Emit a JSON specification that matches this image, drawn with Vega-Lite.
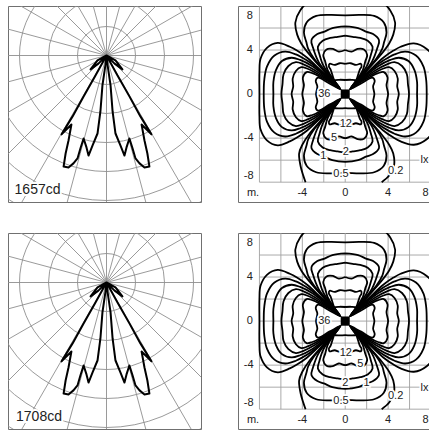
{
"$schema":"https://vega.github.io/schema/vega-lite/v6.json",
"background":"white",
"padding":{"left":7,"top":5,"right":0,"bottom":4},
"config":{"view":{"stroke":"#707070","strokeWidth":1},"text":{"font":"Liberation Sans"}},
"datasets":{
"rings":[{"r":1},{"r":2},{"r":3},{"r":4},{"r":5},{"r":6},{"r":7}],
"spokes":[{"x":-8,"y":0,"x2":8,"y2":0},{"x":-7.727,"y":-2.071,"x2":7.727,"y2":2.071},{"x":-6.928,"y":-4,"x2":6.928,"y2":4},{"x":-5.657,"y":-5.657,"x2":5.657,"y2":5.657},{"x":-4,"y":-6.928,"x2":4,"y2":6.928},{"x":-2.071,"y":-7.727,"x2":2.071,"y2":7.727},{"x":0,"y":-8,"x2":0,"y2":8},{"x":2.071,"y":-7.727,"x2":-2.071,"y2":7.727},{"x":4,"y":-6.928,"x2":-4,"y2":6.928},{"x":5.657,"y":-5.657,"x2":-5.657,"y2":5.657},{"x":6.928,"y":-4,"x2":-6.928,"y2":4},{"x":7.727,"y":-2.071,"x2":-7.727,"y2":2.071}],
"curve":[{"i":1,"x":0,"y":0},{"i":2,"x":-0.31,"y":-0.17},{"i":3,"x":-0.55,"y":-0.48},{"i":4,"x":-0.28,"y":-0.28},{"i":5,"x":0,"y":0},{"i":6,"x":-0.38,"y":-0.69},{"i":7,"x":-0.79,"y":-1.41},{"i":8,"x":-1.17,"y":-2.1},{"i":9,"x":-1.55,"y":-2.72},{"i":10,"x":-1.21,"y":-2.38},{"i":11,"x":-1.31,"y":-2.93},{"i":12,"x":-1.41,"y":-3.38},{"i":13,"x":-1.48,"y":-3.83},{"i":14,"x":-1.31,"y":-3.86},{"i":15,"x":-1.14,"y":-3.72},{"i":16,"x":-1.0,"y":-3.55},{"i":17,"x":-0.9,"y":-3.21},{"i":18,"x":-0.79,"y":-2.86},{"i":19,"x":-0.69,"y":-3.17},{"i":20,"x":-0.62,"y":-3.45},{"i":21,"x":-0.48,"y":-3.1},{"i":22,"x":-0.31,"y":-2.69},{"i":23,"x":-0.21,"y":-1.93},{"i":24,"x":-0.14,"y":-1.03},{"i":25,"x":-0.03,"y":-0.28},{"i":26,"x":0,"y":0},{"i":27,"x":0.03,"y":-0.28},{"i":28,"x":0.14,"y":-1.03},{"i":29,"x":0.21,"y":-1.93},{"i":30,"x":0.31,"y":-2.69},{"i":31,"x":0.48,"y":-3.1},{"i":32,"x":0.62,"y":-3.45},{"i":33,"x":0.69,"y":-3.17},{"i":34,"x":0.79,"y":-2.86},{"i":35,"x":0.9,"y":-3.21},{"i":36,"x":1.0,"y":-3.55},{"i":37,"x":1.14,"y":-3.72},{"i":38,"x":1.31,"y":-3.86},{"i":39,"x":1.48,"y":-3.83},{"i":40,"x":1.41,"y":-3.38},{"i":41,"x":1.31,"y":-2.93},{"i":42,"x":1.21,"y":-2.38},{"i":43,"x":1.55,"y":-2.72},{"i":44,"x":1.17,"y":-2.1},{"i":45,"x":0.79,"y":-1.41},{"i":46,"x":0.38,"y":-0.69},{"i":47,"x":0,"y":0},{"i":48,"x":0.28,"y":-0.28},{"i":49,"x":0.55,"y":-0.48},{"i":50,"x":0.31,"y":-0.17},{"i":51,"x":0,"y":0}],
"grid":[{"x":-8,"y":-8,"x2":-8,"y2":8},{"x":-6,"y":-8,"x2":-6,"y2":8},{"x":-4,"y":-8,"x2":-4,"y2":8},{"x":-2,"y":-8,"x2":-2,"y2":8},{"x":0,"y":-8,"x2":0,"y2":8},{"x":2,"y":-8,"x2":2,"y2":8},{"x":4,"y":-8,"x2":4,"y2":8},{"x":6,"y":-8,"x2":6,"y2":8},{"x":-8,"y":-8,"x2":8,"y2":-8},{"x":-8,"y":-6,"x2":8,"y2":-6},{"x":-8,"y":-4,"x2":8,"y2":-4},{"x":-8,"y":-2,"x2":8,"y2":-2},{"x":-8,"y":0,"x2":8,"y2":0},{"x":-8,"y":2,"x2":8,"y2":2},{"x":-8,"y":4,"x2":8,"y2":4},{"x":-8,"y":6,"x2":8,"y2":6}],
"axl":[{"t":"8","x":-8.9,"y":7.1},{"t":"4","x":-8.9,"y":4},{"t":"0","x":-8.9,"y":0},{"t":"-4","x":-9.0,"y":-4},{"t":"-8","x":-9.0,"y":-7.45},{"t":"m.","x":-8.6,"y":-8.95},{"t":"-4","x":-4,"y":-8.95},{"t":"0","x":0,"y":-8.95},{"t":"4","x":4,"y":-8.95},{"t":"8","x":7.5,"y":-8.95}],
"lab1":[{"t":"36","x":-1.95,"y":0},{"t":"12","x":0.05,"y":-2.72},{"t":"5","x":-1.05,"y":-4.0},{"t":"2","x":0.05,"y":-5.3},{"t":"1","x":-2.05,"y":-5.65},{"t":"0.5","x":-0.4,"y":-7.3},{"t":"0.2","x":4.7,"y":-7.0},{"t":"lx","x":7.4,"y":-6.0}],
"lab2":[{"t":"36","x":-1.95,"y":0},{"t":"12","x":0.05,"y":-2.9},{"t":"5","x":1.4,"y":-3.9},{"t":"2","x":0.0,"y":-5.6},{"t":"1","x":2.0,"y":-5.6},{"t":"0.5","x":-0.4,"y":-7.3},{"t":"0.2","x":4.7,"y":-6.8},{"t":"lx","x":7.4,"y":-6.1}],
"iso":[
{"l":"a","i":1,"x":3.4,"y":-8},{"l":"a","i":2,"x":4.1,"y":-7.4},{"l":"a","i":3,"x":4.55,"y":-6.5},{"l":"a","i":4,"x":4.48,"y":-5.4},{"l":"a","i":5,"x":4.1,"y":-4.6},{"l":"a","i":6,"x":3.3,"y":-3.55},{"l":"a","i":7,"x":2.0,"y":-2.12},{"l":"a","i":8,"x":0.58,"y":-0.58},{"l":"a","i":9,"x":2.12,"y":-2.0},{"l":"a","i":10,"x":3.55,"y":-3.3},{"l":"a","i":11,"x":4.5,"y":-3.95},{"l":"a","i":12,"x":5.17,"y":-4.3},{"l":"a","i":13,"x":6.4,"y":-4.6},{"l":"a","i":14,"x":7.6,"y":-4.1},{"l":"a","i":15,"x":8.5,"y":-2.9},{"l":"a","i":16,"x":8.85,"y":-1.4},{"l":"a","i":17,"x":8.8,"y":0},{"l":"a","i":18,"x":8.85,"y":1.4},{"l":"a","i":19,"x":8.5,"y":2.9},{"l":"a","i":20,"x":7.6,"y":4.1},{"l":"a","i":21,"x":6.4,"y":4.6},{"l":"a","i":22,"x":5.17,"y":4.3},{"l":"a","i":23,"x":4.5,"y":3.95},{"l":"a","i":24,"x":3.55,"y":3.3},{"l":"a","i":25,"x":2.12,"y":2.0},{"l":"a","i":26,"x":0.58,"y":0.58},{"l":"a","i":27,"x":2.0,"y":2.12},{"l":"a","i":28,"x":3.3,"y":3.55},{"l":"a","i":29,"x":4.1,"y":4.6},{"l":"a","i":30,"x":4.48,"y":5.4},{"l":"a","i":31,"x":4.65,"y":6.5},{"l":"a","i":32,"x":4.2,"y":7.6},{"l":"a","i":33,"x":3.1,"y":8.6},{"l":"a","i":34,"x":1.6,"y":8.95},{"l":"a","i":35,"x":0,"y":8.9},{"l":"a","i":36,"x":-1.6,"y":8.95},{"l":"a","i":37,"x":-3.1,"y":8.6},{"l":"a","i":38,"x":-4.2,"y":7.6},{"l":"a","i":39,"x":-4.65,"y":6.5},{"l":"a","i":40,"x":-4.48,"y":5.4},{"l":"a","i":41,"x":-4.1,"y":4.6},{"l":"a","i":42,"x":-3.3,"y":3.55},{"l":"a","i":43,"x":-2.0,"y":2.12},{"l":"a","i":44,"x":-0.58,"y":0.58},{"l":"a","i":45,"x":-2.12,"y":2.0},{"l":"a","i":46,"x":-3.55,"y":3.3},{"l":"a","i":47,"x":-4.5,"y":3.95},{"l":"a","i":48,"x":-5.17,"y":4.3},{"l":"a","i":49,"x":-6.3,"y":4.65},{"l":"a","i":50,"x":-7.3,"y":4.2},{"l":"a","i":51,"x":-7.9,"y":3.2},{"l":"a","i":52,"x":-8.0,"y":2.0},{"l":"a","i":53,"x":-8.0,"y":0},{"l":"a","i":54,"x":-8.0,"y":-2.0},{"l":"a","i":55,"x":-7.9,"y":-3.2},{"l":"a","i":56,"x":-7.3,"y":-4.2},{"l":"a","i":57,"x":-6.3,"y":-4.65},{"l":"a","i":58,"x":-5.17,"y":-4.3},{"l":"a","i":59,"x":-4.5,"y":-3.95},{"l":"a","i":60,"x":-3.55,"y":-3.3},{"l":"a","i":61,"x":-2.12,"y":-2.0},{"l":"a","i":62,"x":-0.58,"y":-0.58},{"l":"a","i":63,"x":-2.0,"y":-2.12},{"l":"a","i":64,"x":-3.3,"y":-3.55},{"l":"a","i":65,"x":-4.0,"y":-4.6},{"l":"a","i":66,"x":-4.3,"y":-5.4},{"l":"a","i":67,"x":-4.15,"y":-6.6},{"l":"a","i":68,"x":-3.7,"y":-8},
{"l":"b","i":1,"x":0,"y":7.15},{"l":"b","i":2,"x":1.4,"y":7.2},{"l":"b","i":3,"x":2.7,"y":7.1},{"l":"b","i":4,"x":3.6,"y":6.5},{"l":"b","i":5,"x":3.85,"y":5.6},{"l":"b","i":6,"x":3.62,"y":4.7},{"l":"b","i":7,"x":3.45,"y":4.1},{"l":"b","i":8,"x":2.9,"y":3.2},{"l":"b","i":9,"x":1.9,"y":2.05},{"l":"b","i":10,"x":0.55,"y":0.55},{"l":"b","i":11,"x":2.05,"y":1.9},{"l":"b","i":12,"x":3.25,"y":2.85},{"l":"b","i":13,"x":4.0,"y":3.3},{"l":"b","i":14,"x":4.6,"y":3.6},{"l":"b","i":15,"x":5.6,"y":3.85},{"l":"b","i":16,"x":6.6,"y":3.5},{"l":"b","i":17,"x":7.3,"y":2.5},{"l":"b","i":18,"x":7.55,"y":1.3},{"l":"b","i":19,"x":7.6,"y":0},
{"l":"b","i":20,"x":7.55,"y":-1.3},{"l":"b","i":21,"x":7.3,"y":-2.5},{"l":"b","i":22,"x":6.6,"y":-3.5},{"l":"b","i":23,"x":5.6,"y":-3.85},{"l":"b","i":24,"x":4.6,"y":-3.6},{"l":"b","i":25,"x":4.0,"y":-3.3},{"l":"b","i":26,"x":3.25,"y":-2.85},{"l":"b","i":27,"x":2.05,"y":-1.9},{"l":"b","i":28,"x":0.55,"y":-0.55},{"l":"b","i":29,"x":1.9,"y":-2.05},{"l":"b","i":30,"x":2.9,"y":-3.2},{"l":"b","i":31,"x":3.45,"y":-4.1},{"l":"b","i":32,"x":3.62,"y":-4.7},{"l":"b","i":33,"x":3.85,"y":-5.6},{"l":"b","i":34,"x":3.6,"y":-6.5},{"l":"b","i":35,"x":2.7,"y":-7.1},{"l":"b","i":36,"x":1.4,"y":-7.2},{"l":"b","i":37,"x":0,"y":-7.15},
{"l":"b","i":38,"x":-1.4,"y":-7.2},{"l":"b","i":39,"x":-2.7,"y":-7.1},{"l":"b","i":40,"x":-3.6,"y":-6.5},{"l":"b","i":41,"x":-3.85,"y":-5.6},{"l":"b","i":42,"x":-3.62,"y":-4.7},{"l":"b","i":43,"x":-3.45,"y":-4.1},{"l":"b","i":44,"x":-2.9,"y":-3.2},{"l":"b","i":45,"x":-1.9,"y":-2.05},{"l":"b","i":46,"x":-0.55,"y":-0.55},{"l":"b","i":47,"x":-2.05,"y":-1.9},{"l":"b","i":48,"x":-3.25,"y":-2.85},{"l":"b","i":49,"x":-4.0,"y":-3.3},{"l":"b","i":50,"x":-4.6,"y":-3.6},{"l":"b","i":51,"x":-5.6,"y":-3.85},{"l":"b","i":52,"x":-6.6,"y":-3.5},{"l":"b","i":53,"x":-7.3,"y":-2.5},{"l":"b","i":54,"x":-7.55,"y":-1.3},{"l":"b","i":55,"x":-7.6,"y":0},
{"l":"b","i":56,"x":-7.55,"y":1.3},{"l":"b","i":57,"x":-7.3,"y":2.5},{"l":"b","i":58,"x":-6.6,"y":3.5},{"l":"b","i":59,"x":-5.6,"y":3.85},{"l":"b","i":60,"x":-4.6,"y":3.6},{"l":"b","i":61,"x":-4.0,"y":3.3},{"l":"b","i":62,"x":-3.25,"y":2.85},{"l":"b","i":63,"x":-2.05,"y":1.9},{"l":"b","i":64,"x":-0.55,"y":0.55},{"l":"b","i":65,"x":-1.9,"y":2.05},{"l":"b","i":66,"x":-2.9,"y":3.2},{"l":"b","i":67,"x":-3.45,"y":4.1},{"l":"b","i":68,"x":-3.62,"y":4.7},{"l":"b","i":69,"x":-3.85,"y":5.6},{"l":"b","i":70,"x":-3.6,"y":6.5},{"l":"b","i":71,"x":-2.7,"y":7.1},{"l":"b","i":72,"x":-1.4,"y":7.2},{"l":"b","i":73,"x":0,"y":7.15},
{"l":"c","i":1,"x":0,"y":6.15},{"l":"c","i":2,"x":1.2,"y":6.0},{"l":"c","i":3,"x":2.0,"y":5.65},{"l":"c","i":4,"x":2.6,"y":5.45},{"l":"c","i":5,"x":3.15,"y":4.9},{"l":"c","i":6,"x":3.0,"y":4.2},{"l":"c","i":7,"x":2.5,"y":2.95},{"l":"c","i":8,"x":1.7,"y":1.9},{"l":"c","i":9,"x":0.52,"y":0.52},{"l":"c","i":10,"x":1.95,"y":1.7},{"l":"c","i":11,"x":3.1,"y":2.55},{"l":"c","i":12,"x":4.21,"y":3.1},{"l":"c","i":13,"x":5.0,"y":3.3},{"l":"c","i":14,"x":5.9,"y":3.0},{"l":"c","i":15,"x":6.45,"y":2.2},{"l":"c","i":16,"x":6.7,"y":1.1},{"l":"c","i":17,"x":6.7,"y":0},
{"l":"c","i":18,"x":6.7,"y":-1.1},{"l":"c","i":19,"x":6.45,"y":-2.2},{"l":"c","i":20,"x":5.9,"y":-3.0},{"l":"c","i":21,"x":5.0,"y":-3.3},{"l":"c","i":22,"x":4.21,"y":-3.1},{"l":"c","i":23,"x":3.1,"y":-2.55},{"l":"c","i":24,"x":1.95,"y":-1.7},{"l":"c","i":25,"x":0.52,"y":-0.52},{"l":"c","i":26,"x":1.7,"y":-1.9},{"l":"c","i":27,"x":2.5,"y":-2.95},{"l":"c","i":28,"x":3.0,"y":-4.2},{"l":"c","i":29,"x":3.15,"y":-4.9},{"l":"c","i":30,"x":2.6,"y":-5.45},{"l":"c","i":31,"x":2.0,"y":-5.65},{"l":"c","i":32,"x":1.2,"y":-6.0},{"l":"c","i":33,"x":0,"y":-6.15},
{"l":"c","i":34,"x":-1.2,"y":-6.0},{"l":"c","i":35,"x":-2.0,"y":-5.65},{"l":"c","i":36,"x":-2.6,"y":-5.45},{"l":"c","i":37,"x":-3.15,"y":-4.9},{"l":"c","i":38,"x":-3.0,"y":-4.2},{"l":"c","i":39,"x":-2.5,"y":-2.95},{"l":"c","i":40,"x":-1.7,"y":-1.9},{"l":"c","i":41,"x":-0.52,"y":-0.52},{"l":"c","i":42,"x":-1.95,"y":-1.7},{"l":"c","i":43,"x":-3.1,"y":-2.55},{"l":"c","i":44,"x":-4.21,"y":-3.1},{"l":"c","i":45,"x":-5.0,"y":-3.3},{"l":"c","i":46,"x":-5.9,"y":-3.0},{"l":"c","i":47,"x":-6.45,"y":-2.2},{"l":"c","i":48,"x":-6.7,"y":-1.1},{"l":"c","i":49,"x":-6.7,"y":0},
{"l":"c","i":50,"x":-6.7,"y":1.1},{"l":"c","i":51,"x":-6.45,"y":2.2},{"l":"c","i":52,"x":-5.9,"y":3.0},{"l":"c","i":53,"x":-5.0,"y":3.3},{"l":"c","i":54,"x":-4.21,"y":3.1},{"l":"c","i":55,"x":-3.1,"y":2.55},{"l":"c","i":56,"x":-1.95,"y":1.7},{"l":"c","i":57,"x":-0.52,"y":0.52},{"l":"c","i":58,"x":-1.7,"y":1.9},{"l":"c","i":59,"x":-2.5,"y":2.95},{"l":"c","i":60,"x":-3.0,"y":4.2},{"l":"c","i":61,"x":-3.15,"y":4.9},{"l":"c","i":62,"x":-2.6,"y":5.45},{"l":"c","i":63,"x":-2.0,"y":5.65},{"l":"c","i":64,"x":-1.2,"y":6.0},{"l":"c","i":65,"x":0,"y":6.15},
{"l":"d","i":1,"x":0,"y":5.3},{"l":"d","i":2,"x":0.7,"y":5.2},{"l":"d","i":3,"x":1.4,"y":5.1},{"l":"d","i":4,"x":2.1,"y":4.85},{"l":"d","i":5,"x":2.55,"y":4.3},{"l":"d","i":6,"x":2.4,"y":3.6},{"l":"d","i":7,"x":2.05,"y":2.6},{"l":"d","i":8,"x":1.45,"y":1.7},{"l":"d","i":9,"x":0.5,"y":0.5},{"l":"d","i":10,"x":1.75,"y":1.45},{"l":"d","i":11,"x":2.8,"y":2.15},{"l":"d","i":12,"x":3.89,"y":2.7},{"l":"d","i":13,"x":4.6,"y":2.9},{"l":"d","i":14,"x":5.3,"y":2.55},{"l":"d","i":15,"x":5.75,"y":1.8},{"l":"d","i":16,"x":5.85,"y":0.9},{"l":"d","i":17,"x":5.95,"y":0},
{"l":"d","i":18,"x":5.85,"y":-0.9},{"l":"d","i":19,"x":5.75,"y":-1.8},{"l":"d","i":20,"x":5.3,"y":-2.55},{"l":"d","i":21,"x":4.6,"y":-2.9},{"l":"d","i":22,"x":3.89,"y":-2.7},{"l":"d","i":23,"x":2.8,"y":-2.15},{"l":"d","i":24,"x":1.75,"y":-1.45},{"l":"d","i":25,"x":0.5,"y":-0.5},{"l":"d","i":26,"x":1.45,"y":-1.7},{"l":"d","i":27,"x":2.05,"y":-2.6},{"l":"d","i":28,"x":2.4,"y":-3.6},{"l":"d","i":29,"x":2.55,"y":-4.3},{"l":"d","i":30,"x":2.1,"y":-4.85},{"l":"d","i":31,"x":1.4,"y":-5.1},{"l":"d","i":32,"x":0.7,"y":-5.2},{"l":"d","i":33,"x":0,"y":-5.3},
{"l":"d","i":34,"x":-0.7,"y":-5.2},{"l":"d","i":35,"x":-1.4,"y":-5.1},{"l":"d","i":36,"x":-2.1,"y":-4.85},{"l":"d","i":37,"x":-2.55,"y":-4.3},{"l":"d","i":38,"x":-2.4,"y":-3.6},{"l":"d","i":39,"x":-2.05,"y":-2.6},{"l":"d","i":40,"x":-1.45,"y":-1.7},{"l":"d","i":41,"x":-0.5,"y":-0.5},{"l":"d","i":42,"x":-1.75,"y":-1.45},{"l":"d","i":43,"x":-2.8,"y":-2.15},{"l":"d","i":44,"x":-3.89,"y":-2.7},{"l":"d","i":45,"x":-4.6,"y":-2.9},{"l":"d","i":46,"x":-5.3,"y":-2.55},{"l":"d","i":47,"x":-5.75,"y":-1.8},{"l":"d","i":48,"x":-5.85,"y":-0.9},{"l":"d","i":49,"x":-5.95,"y":0},
{"l":"d","i":50,"x":-5.85,"y":0.9},{"l":"d","i":51,"x":-5.75,"y":1.8},{"l":"d","i":52,"x":-5.3,"y":2.55},{"l":"d","i":53,"x":-4.6,"y":2.9},{"l":"d","i":54,"x":-3.89,"y":2.7},{"l":"d","i":55,"x":-2.8,"y":2.15},{"l":"d","i":56,"x":-1.75,"y":1.45},{"l":"d","i":57,"x":-0.5,"y":0.5},{"l":"d","i":58,"x":-1.45,"y":1.7},{"l":"d","i":59,"x":-2.05,"y":2.6},{"l":"d","i":60,"x":-2.4,"y":3.6},{"l":"d","i":61,"x":-2.55,"y":4.3},{"l":"d","i":62,"x":-2.1,"y":4.85},{"l":"d","i":63,"x":-1.4,"y":5.1},{"l":"d","i":64,"x":-0.7,"y":5.2},{"l":"d","i":65,"x":0,"y":5.3},
{"l":"e","i":1,"x":0,"y":4.0},{"l":"e","i":2,"x":0.6,"y":3.85},{"l":"e","i":3,"x":1.15,"y":4.1},{"l":"e","i":4,"x":1.75,"y":4.05},{"l":"e","i":5,"x":2.05,"y":3.55},{"l":"e","i":6,"x":1.88,"y":3.0},{"l":"e","i":7,"x":1.65,"y":2.2},{"l":"e","i":8,"x":1.2,"y":1.45},{"l":"e","i":9,"x":0.48,"y":0.48},{"l":"e","i":10,"x":1.5,"y":1.2},{"l":"e","i":11,"x":2.5,"y":1.8},{"l":"e","i":12,"x":3.51,"y":2.3},{"l":"e","i":13,"x":4.1,"y":2.45},{"l":"e","i":14,"x":4.6,"y":2.1},{"l":"e","i":15,"x":4.9,"y":1.4},{"l":"e","i":16,"x":4.85,"y":0.7},{"l":"e","i":17,"x":5.0,"y":0},
{"l":"e","i":18,"x":4.85,"y":-0.7},{"l":"e","i":19,"x":4.9,"y":-1.4},{"l":"e","i":20,"x":4.6,"y":-2.1},{"l":"e","i":21,"x":4.1,"y":-2.45},{"l":"e","i":22,"x":3.51,"y":-2.3},{"l":"e","i":23,"x":2.5,"y":-1.8},{"l":"e","i":24,"x":1.5,"y":-1.2},{"l":"e","i":25,"x":0.48,"y":-0.48},{"l":"e","i":26,"x":1.2,"y":-1.45},{"l":"e","i":27,"x":1.65,"y":-2.2},{"l":"e","i":28,"x":1.88,"y":-3.0},{"l":"e","i":29,"x":2.05,"y":-3.55},{"l":"e","i":30,"x":1.75,"y":-4.05},{"l":"e","i":31,"x":1.15,"y":-4.1},{"l":"e","i":32,"x":0.6,"y":-3.85},{"l":"e","i":33,"x":0,"y":-4.0},
{"l":"e","i":34,"x":-0.6,"y":-3.85},{"l":"e","i":35,"x":-1.15,"y":-4.1},{"l":"e","i":36,"x":-1.75,"y":-4.05},{"l":"e","i":37,"x":-2.05,"y":-3.55},{"l":"e","i":38,"x":-1.88,"y":-3.0},{"l":"e","i":39,"x":-1.65,"y":-2.2},{"l":"e","i":40,"x":-1.2,"y":-1.45},{"l":"e","i":41,"x":-0.48,"y":-0.48},{"l":"e","i":42,"x":-1.5,"y":-1.2},{"l":"e","i":43,"x":-2.5,"y":-1.8},{"l":"e","i":44,"x":-3.51,"y":-2.3},{"l":"e","i":45,"x":-4.1,"y":-2.45},{"l":"e","i":46,"x":-4.6,"y":-2.1},{"l":"e","i":47,"x":-4.9,"y":-1.4},{"l":"e","i":48,"x":-4.85,"y":-0.7},{"l":"e","i":49,"x":-5.0,"y":0},
{"l":"e","i":50,"x":-4.85,"y":0.7},{"l":"e","i":51,"x":-4.9,"y":1.4},{"l":"e","i":52,"x":-4.6,"y":2.1},{"l":"e","i":53,"x":-4.1,"y":2.45},{"l":"e","i":54,"x":-3.51,"y":2.3},{"l":"e","i":55,"x":-2.5,"y":1.8},{"l":"e","i":56,"x":-1.5,"y":1.2},{"l":"e","i":57,"x":-0.48,"y":0.48},{"l":"e","i":58,"x":-1.2,"y":1.45},{"l":"e","i":59,"x":-1.65,"y":2.2},{"l":"e","i":60,"x":-1.88,"y":3.0},{"l":"e","i":61,"x":-2.05,"y":3.55},{"l":"e","i":62,"x":-1.75,"y":4.05},{"l":"e","i":63,"x":-1.15,"y":4.1},{"l":"e","i":64,"x":-0.6,"y":3.85},{"l":"e","i":65,"x":0,"y":4.0},
{"l":"f","i":1,"x":0,"y":2.75},{"l":"f","i":2,"x":0.5,"y":2.8},{"l":"f","i":3,"x":1.0,"y":2.65},{"l":"f","i":4,"x":1.45,"y":2.75},{"l":"f","i":5,"x":1.52,"y":2.5},{"l":"f","i":6,"x":1.37,"y":2.25},{"l":"f","i":7,"x":1.0,"y":1.2},{"l":"f","i":8,"x":0.45,"y":0.45},{"l":"f","i":9,"x":1.3,"y":1.0},{"l":"f","i":10,"x":2.2,"y":1.5},{"l":"f","i":11,"x":3.07,"y":1.9},{"l":"f","i":12,"x":3.6,"y":2.0},{"l":"f","i":13,"x":3.95,"y":1.5},{"l":"f","i":14,"x":3.85,"y":0.8},{"l":"f","i":15,"x":4.0,"y":0},
{"l":"f","i":16,"x":3.85,"y":-0.8},{"l":"f","i":17,"x":3.95,"y":-1.5},{"l":"f","i":18,"x":3.6,"y":-2.0},{"l":"f","i":19,"x":3.07,"y":-1.9},{"l":"f","i":20,"x":2.2,"y":-1.5},{"l":"f","i":21,"x":1.3,"y":-1.0},{"l":"f","i":22,"x":0.45,"y":-0.45},{"l":"f","i":23,"x":1.0,"y":-1.2},{"l":"f","i":24,"x":1.37,"y":-2.25},{"l":"f","i":25,"x":1.52,"y":-2.5},{"l":"f","i":26,"x":1.45,"y":-2.75},{"l":"f","i":27,"x":1.0,"y":-2.65},{"l":"f","i":28,"x":0.5,"y":-2.8},{"l":"f","i":29,"x":0,"y":-2.75},
{"l":"f","i":30,"x":-0.5,"y":-2.8},{"l":"f","i":31,"x":-1.0,"y":-2.65},{"l":"f","i":32,"x":-1.45,"y":-2.75},{"l":"f","i":33,"x":-1.52,"y":-2.5},{"l":"f","i":34,"x":-1.37,"y":-2.25},{"l":"f","i":35,"x":-1.0,"y":-1.2},{"l":"f","i":36,"x":-0.45,"y":-0.45},{"l":"f","i":37,"x":-1.3,"y":-1.0},{"l":"f","i":38,"x":-2.2,"y":-1.5},{"l":"f","i":39,"x":-3.07,"y":-1.9},{"l":"f","i":40,"x":-3.6,"y":-2.0},{"l":"f","i":41,"x":-3.95,"y":-1.5},{"l":"f","i":42,"x":-3.85,"y":-0.8},{"l":"f","i":43,"x":-4.0,"y":0},
{"l":"f","i":44,"x":-3.85,"y":0.8},{"l":"f","i":45,"x":-3.95,"y":1.5},{"l":"f","i":46,"x":-3.6,"y":2.0},{"l":"f","i":47,"x":-3.07,"y":1.9},{"l":"f","i":48,"x":-2.2,"y":1.5},{"l":"f","i":49,"x":-1.3,"y":1.0},{"l":"f","i":50,"x":-0.45,"y":0.45},{"l":"f","i":51,"x":-1.0,"y":1.2},{"l":"f","i":52,"x":-1.37,"y":2.25},{"l":"f","i":53,"x":-1.52,"y":2.5},{"l":"f","i":54,"x":-1.45,"y":2.75},{"l":"f","i":55,"x":-1.0,"y":2.65},{"l":"f","i":56,"x":-0.5,"y":2.8},{"l":"f","i":57,"x":0,"y":2.75},
{"l":"g","i":1,"x":0,"y":1.28},{"l":"g","i":2,"x":0.55,"y":1.3},{"l":"g","i":3,"x":1.05,"y":1.25},{"l":"g","i":4,"x":1.25,"y":1.05},{"l":"g","i":5,"x":0.95,"y":0.8},{"l":"g","i":6,"x":0.42,"y":0.42},{"l":"g","i":7,"x":1.48,"y":0.96},{"l":"g","i":8,"x":2.54,"y":1.5},{"l":"g","i":9,"x":2.75,"y":1.2},{"l":"g","i":10,"x":2.6,"y":0.7},{"l":"g","i":11,"x":2.72,"y":0},
{"l":"g","i":12,"x":2.6,"y":-0.7},{"l":"g","i":13,"x":2.75,"y":-1.2},{"l":"g","i":14,"x":2.54,"y":-1.5},{"l":"g","i":15,"x":1.48,"y":-0.96},{"l":"g","i":16,"x":0.42,"y":-0.42},{"l":"g","i":17,"x":0.95,"y":-0.8},{"l":"g","i":18,"x":1.25,"y":-1.05},{"l":"g","i":19,"x":1.05,"y":-1.25},{"l":"g","i":20,"x":0.55,"y":-1.3},{"l":"g","i":21,"x":0,"y":-1.28},
{"l":"g","i":22,"x":-0.55,"y":-1.3},{"l":"g","i":23,"x":-1.05,"y":-1.25},{"l":"g","i":24,"x":-1.25,"y":-1.05},{"l":"g","i":25,"x":-0.95,"y":-0.8},{"l":"g","i":26,"x":-0.42,"y":-0.42},{"l":"g","i":27,"x":-1.48,"y":-0.96},{"l":"g","i":28,"x":-2.54,"y":-1.5},{"l":"g","i":29,"x":-2.75,"y":-1.2},{"l":"g","i":30,"x":-2.6,"y":-0.7},{"l":"g","i":31,"x":-2.72,"y":0},
{"l":"g","i":32,"x":-2.6,"y":0.7},{"l":"g","i":33,"x":-2.75,"y":1.2},{"l":"g","i":34,"x":-2.54,"y":1.5},{"l":"g","i":35,"x":-1.48,"y":0.96},{"l":"g","i":36,"x":-0.42,"y":0.42},{"l":"g","i":37,"x":-0.95,"y":0.8},{"l":"g","i":38,"x":-1.25,"y":1.05},{"l":"g","i":39,"x":-1.05,"y":1.25},{"l":"g","i":40,"x":-0.55,"y":1.3},{"l":"g","i":41,"x":0,"y":1.28}
]
},
"spacing":29,
"vconcat":[
{"hconcat":[
{"width":193,"height":196,"layer":[
{"data":{"name":"rings"},"mark":{"type":"point","shape":"circle","filled":false,"color":"#8f8f8f","opacity":1,"strokeWidth":0.9,"clip":true},
"encoding":{"x":{"datum":0,"type":"quantitative","scale":{"domain":[-3.397,3.259],"nice":false,"zero":false},"axis":null},"y":{"datum":0,"type":"quantitative","scale":{"domain":[-5.052,1.707],"nice":false,"zero":false},"axis":null},"size":{"field":"r","type":"quantitative","scale":{"type":"pow","exponent":2,"domain":[0,7],"range":[0,164836]},"legend":null}}},
{"data":{"name":"spokes"},"mark":{"type":"rule","stroke":"#8f8f8f","strokeWidth":0.9,"clip":true},
"encoding":{"x":{"field":"x","type":"quantitative","scale":{"domain":[-3.397,3.259],"nice":false,"zero":false},"axis":null},"y":{"field":"y","type":"quantitative","scale":{"domain":[-5.052,1.707],"nice":false,"zero":false},"axis":null},"x2":{"field":"x2"},"y2":{"field":"y2"}}},
{"data":{"name":"curve"},"mark":{"type":"line","stroke":"black","strokeWidth":2,"strokeJoin":"round","clip":true},
"encoding":{"x":{"field":"x","type":"quantitative","scale":{"domain":[-3.397,3.259],"nice":false,"zero":false},"axis":null},"y":{"field":"y","type":"quantitative","scale":{"domain":[-5.052,1.707],"nice":false,"zero":false},"axis":null},"order":{"field":"i","type":"quantitative"}}},
{"data":{"values":[{"t":"1657cd","x":-3.17,"y":-4.78}]},"mark":{"type":"text","fontSize":14,"align":"left","baseline":"alphabetic","color":"white","stroke":"white","strokeWidth":4},
"encoding":{"x":{"field":"x","type":"quantitative","scale":{"domain":[-3.397,3.259],"nice":false,"zero":false},"axis":null},"y":{"field":"y","type":"quantitative","scale":{"domain":[-5.052,1.707],"nice":false,"zero":false},"axis":null},"text":{"field":"t"}}},
{"data":{"values":[{"t":"1657cd","x":-3.17,"y":-4.78}]},"mark":{"type":"text","fontSize":14,"align":"left","baseline":"alphabetic","color":"#222222"},
"encoding":{"x":{"field":"x","type":"quantitative","scale":{"domain":[-3.397,3.259],"nice":false,"zero":false},"axis":null},"y":{"field":"y","type":"quantitative","scale":{"domain":[-5.052,1.707],"nice":false,"zero":false},"axis":null},"text":{"field":"t"}}}
]},
{"width":193,"height":196,"layer":[
{"data":{"name":"grid"},"mark":{"type":"rule","stroke":"#a0a0a0","strokeWidth":0.9,"clip":true},
"encoding":{"x":{"field":"x","type":"quantitative","scale":{"domain":[-10,8],"nice":false,"zero":false},"axis":null},"y":{"field":"y","type":"quantitative","scale":{"domain":[-9.8,8],"nice":false,"zero":false},"axis":null},"x2":{"field":"x2"},"y2":{"field":"y2"}}},
{"data":{"name":"iso"},"mark":{"type":"line","stroke":"black","strokeWidth":1.8,"interpolate":"catmull-rom","strokeJoin":"round","clip":true},
"encoding":{"x":{"field":"x","type":"quantitative","scale":{"domain":[-10,8],"nice":false,"zero":false},"axis":null},"y":{"field":"y","type":"quantitative","scale":{"domain":[-9.8,8],"nice":false,"zero":false},"axis":null},"detail":{"field":"l"},"order":{"field":"i","type":"quantitative"}}},
{"data":{"values":[{"x":-0.42,"y":-0.42,"x2":0.42,"y2":0.42}]},"mark":{"type":"rect","color":"black"},
"encoding":{"x":{"field":"x","type":"quantitative","scale":{"domain":[-10,8],"nice":false,"zero":false},"axis":null},"y":{"field":"y","type":"quantitative","scale":{"domain":[-9.8,8],"nice":false,"zero":false},"axis":null},"x2":{"field":"x2"},"y2":{"field":"y2"}}},
{"data":{"name":"lab1"},"mark":{"type":"text","fontSize":11,"color":"white","stroke":"white","strokeWidth":3.5},
"encoding":{"x":{"field":"x","type":"quantitative","scale":{"domain":[-10,8],"nice":false,"zero":false},"axis":null},"y":{"field":"y","type":"quantitative","scale":{"domain":[-9.8,8],"nice":false,"zero":false},"axis":null},"text":{"field":"t"}}},
{"data":{"name":"lab1"},"mark":{"type":"text","fontSize":11,"color":"#222222"},
"encoding":{"x":{"field":"x","type":"quantitative","scale":{"domain":[-10,8],"nice":false,"zero":false},"axis":null},"y":{"field":"y","type":"quantitative","scale":{"domain":[-9.8,8],"nice":false,"zero":false},"axis":null},"text":{"field":"t"}}},
{"data":{"name":"axl"},"mark":{"type":"text","fontSize":11,"color":"#222222"},
"encoding":{"x":{"field":"x","type":"quantitative","scale":{"domain":[-10,8],"nice":false,"zero":false},"axis":null},"y":{"field":"y","type":"quantitative","scale":{"domain":[-9.8,8],"nice":false,"zero":false},"axis":null},"text":{"field":"t"}}}
]}
],"spacing":35},
{"hconcat":[
{"width":193,"height":196,"layer":[
{"data":{"name":"rings"},"mark":{"type":"point","shape":"circle","filled":false,"color":"#8f8f8f","opacity":1,"strokeWidth":0.9,"clip":true},
"encoding":{"x":{"datum":0,"type":"quantitative","scale":{"domain":[-3.397,3.259],"nice":false,"zero":false},"axis":null},"y":{"datum":0,"type":"quantitative","scale":{"domain":[-5.052,1.707],"nice":false,"zero":false},"axis":null},"size":{"field":"r","type":"quantitative","scale":{"type":"pow","exponent":2,"domain":[0,7],"range":[0,164836]},"legend":null}}},
{"data":{"name":"spokes"},"mark":{"type":"rule","stroke":"#8f8f8f","strokeWidth":0.9,"clip":true},
"encoding":{"x":{"field":"x","type":"quantitative","scale":{"domain":[-3.397,3.259],"nice":false,"zero":false},"axis":null},"y":{"field":"y","type":"quantitative","scale":{"domain":[-5.052,1.707],"nice":false,"zero":false},"axis":null},"x2":{"field":"x2"},"y2":{"field":"y2"}}},
{"data":{"name":"curve"},"mark":{"type":"line","stroke":"black","strokeWidth":2,"strokeJoin":"round","clip":true},
"encoding":{"x":{"field":"x","type":"quantitative","scale":{"domain":[-3.397,3.259],"nice":false,"zero":false},"axis":null},"y":{"field":"y","type":"quantitative","scale":{"domain":[-5.052,1.707],"nice":false,"zero":false},"axis":null},"order":{"field":"i","type":"quantitative"}}},
{"data":{"values":[{"t":"1708cd","x":-3.12,"y":-4.78}]},"mark":{"type":"text","fontSize":14,"align":"left","baseline":"alphabetic","color":"white","stroke":"white","strokeWidth":4},
"encoding":{"x":{"field":"x","type":"quantitative","scale":{"domain":[-3.397,3.259],"nice":false,"zero":false},"axis":null},"y":{"field":"y","type":"quantitative","scale":{"domain":[-5.052,1.707],"nice":false,"zero":false},"axis":null},"text":{"field":"t"}}},
{"data":{"values":[{"t":"1708cd","x":-3.12,"y":-4.78}]},"mark":{"type":"text","fontSize":14,"align":"left","baseline":"alphabetic","color":"#222222"},
"encoding":{"x":{"field":"x","type":"quantitative","scale":{"domain":[-3.397,3.259],"nice":false,"zero":false},"axis":null},"y":{"field":"y","type":"quantitative","scale":{"domain":[-5.052,1.707],"nice":false,"zero":false},"axis":null},"text":{"field":"t"}}}
]},
{"width":193,"height":196,"layer":[
{"data":{"name":"grid"},"mark":{"type":"rule","stroke":"#a0a0a0","strokeWidth":0.9,"clip":true},
"encoding":{"x":{"field":"x","type":"quantitative","scale":{"domain":[-10,8],"nice":false,"zero":false},"axis":null},"y":{"field":"y","type":"quantitative","scale":{"domain":[-9.8,8],"nice":false,"zero":false},"axis":null},"x2":{"field":"x2"},"y2":{"field":"y2"}}},
{"data":{"name":"iso"},"mark":{"type":"line","stroke":"black","strokeWidth":1.8,"interpolate":"catmull-rom","strokeJoin":"round","clip":true},
"encoding":{"x":{"field":"x","type":"quantitative","scale":{"domain":[-10,8],"nice":false,"zero":false},"axis":null},"y":{"field":"y","type":"quantitative","scale":{"domain":[-9.8,8],"nice":false,"zero":false},"axis":null},"detail":{"field":"l"},"order":{"field":"i","type":"quantitative"}}},
{"data":{"values":[{"x":-0.42,"y":-0.42,"x2":0.42,"y2":0.42}]},"mark":{"type":"rect","color":"black"},
"encoding":{"x":{"field":"x","type":"quantitative","scale":{"domain":[-10,8],"nice":false,"zero":false},"axis":null},"y":{"field":"y","type":"quantitative","scale":{"domain":[-9.8,8],"nice":false,"zero":false},"axis":null},"x2":{"field":"x2"},"y2":{"field":"y2"}}},
{"data":{"name":"lab2"},"mark":{"type":"text","fontSize":11,"color":"white","stroke":"white","strokeWidth":3.5},
"encoding":{"x":{"field":"x","type":"quantitative","scale":{"domain":[-10,8],"nice":false,"zero":false},"axis":null},"y":{"field":"y","type":"quantitative","scale":{"domain":[-9.8,8],"nice":false,"zero":false},"axis":null},"text":{"field":"t"}}},
{"data":{"name":"lab2"},"mark":{"type":"text","fontSize":11,"color":"#222222"},
"encoding":{"x":{"field":"x","type":"quantitative","scale":{"domain":[-10,8],"nice":false,"zero":false},"axis":null},"y":{"field":"y","type":"quantitative","scale":{"domain":[-9.8,8],"nice":false,"zero":false},"axis":null},"text":{"field":"t"}}},
{"data":{"name":"axl"},"mark":{"type":"text","fontSize":11,"color":"#222222"},
"encoding":{"x":{"field":"x","type":"quantitative","scale":{"domain":[-10,8],"nice":false,"zero":false},"axis":null},"y":{"field":"y","type":"quantitative","scale":{"domain":[-9.8,8],"nice":false,"zero":false},"axis":null},"text":{"field":"t"}}}
]}
],"spacing":35}
]
}
